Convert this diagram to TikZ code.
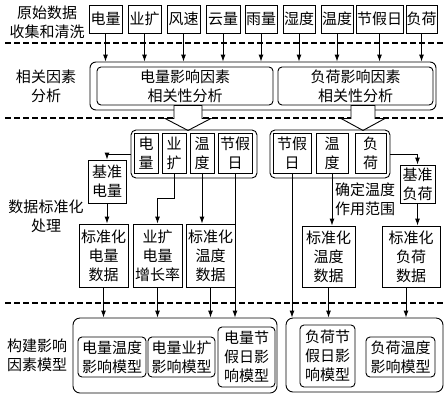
\documentclass[tikz,border=0pt]{standalone}
\usepackage{fontspec}
\setmainfont{Noto Sans CJK SC}
\usetikzlibrary{arrows.meta}

\tikzset{
  box/.style={draw, line width=0.9pt, inner sep=0pt, align=center,
    font=\fontsize{15}{19}\selectfont},
  rbox/.style={box, rounded corners=4pt},
  lbl/.style={align=center, font=\fontsize{15}{19}\selectfont},
  link/.style={line width=0.9pt, -{Latex[length=7pt,width=5pt]}},
  divider/.style={line width=1.4pt, dash pattern=on 6pt off 3pt},
  hollow/.style={line width=0.9pt, fill=white, line join=miter},
}

\begin{document}
\begin{tikzpicture}[x=1pt, y=-1pt]
  \useasboundingbox (0,0) rectangle (446,405);
  % stage names
  \node[lbl] (t1) at(47,22){原始数据\\收集和清洗};
  \node[lbl] (t2) at(46,86){相关因素\\分析};
  \node[lbl] (t3) at(46,216){数据标准化\\处理};
  \node[lbl] (t4) at(37,355){构建影响\\因素模型};
  \draw[divider] (5,43) -- (446,43);
  \draw[divider] (5,118) -- (446,118);
  \draw[divider] (5,303) -- (446,303);

  % raw data
  \node[box, minimum width=33pt, minimum height=28pt] (r1) at(105.5,19){电量};
  \node[box, minimum width=33pt, minimum height=28pt] (r2) at(144.5,19){业扩};
  \node[box, minimum width=33pt, minimum height=28pt] (r3) at(183.5,19){风速};
  \node[box, minimum width=34pt, minimum height=28pt] (r4) at(223,19){云量};
  \node[box, minimum width=32pt, minimum height=28pt] (r5) at(261,19){雨量};
  \node[box, minimum width=32pt, minimum height=28pt] (r6) at(299,19){湿度};
  \node[box, minimum width=32pt, minimum height=28pt] (r7) at(337,19){温度};
  \node[box, minimum width=47pt, minimum height=28pt] (r8) at(379.5,19){节假日};
  \node[box, minimum width=31pt, minimum height=28pt] (r9) at(421.5,19){负荷};

  % correlation analysis
  \node[rbox, rounded corners=6pt, minimum width=346pt, minimum height=48pt] (ana) at(263,86){};
  \node[rbox, minimum width=176pt, minimum height=38pt] (anaE) at(185,86){电量影响因素\\相关性分析};
  \node[rbox, minimum width=155pt, minimum height=38pt] (anaL) at(355.5,86){负荷影响因素\\相关性分析};
  \foreach \i in {1,...,9}
    \draw[link] (r\i.south) -- (r\i.south |- ana.north);
  \draw[hollow] ([xshift=-11pt]anaE.south) -- ++(0,13) -- ++(-9,0) -- ++(23,12)
    -- ++(23,-12) -- ++(-9,0) -- ++(0,-13) -- cycle;
  \draw[hollow] ([xshift=-4.5pt]anaL.south) -- ++(0,13) -- ++(-10,0) -- ++(22,12)
    -- ++(22,-12) -- ++(-10,0) -- ++(0,-13) -- cycle;

  % selected factors
  \node[rbox, rounded corners=5pt, minimum width=126pt, minimum height=48pt] (grpE) at(194,154){};
  \node[box, minimum width=24pt, minimum height=40pt] (gE) at(146,153){电\\量};
  \node[box, minimum width=24pt, minimum height=40pt] (gY) at(174,153){业\\扩};
  \node[box, minimum width=24pt, minimum height=40pt] (gT) at(202,153){温\\度};
  \node[box, minimum width=34pt, minimum height=40pt] (gH) at(235,153){节假\\日};
  \node[rbox, rounded corners=5pt, minimum width=120pt, minimum height=48pt] (grpL) at(330,154){};
  \node[box, minimum width=38pt, minimum height=40pt] (hH) at(292,153){节假\\日};
  \node[box, minimum width=32pt, minimum height=40pt] (hT) at(332,153){温\\度};
  \node[box, minimum width=31pt, minimum height=40pt] (hL) at(370.5,153){负\\荷};

  % standardization
  \node[box, minimum width=38pt, minimum height=43pt] (bE) at(107,181.5){基准\\电量};
  \node[box, minimum width=35pt, minimum height=38pt] (bL) at(417.5,184){基准\\负荷};
  \node[box, minimum width=49pt, minimum height=63pt] (sE) at(103.5,255.5){标准化\\电量\\数据};
  \node[box, minimum width=49pt, minimum height=63pt] (sY) at(157.5,255.5){业扩\\电量\\增长率};
  \node[box, minimum width=49pt, minimum height=63pt] (sT) at(210.5,255.5){标准化\\温度\\数据};
  \node[box, minimum width=53pt, minimum height=61pt] (rT) at(328.5,256.5){标准化\\温度\\数据};
  \node[box, minimum width=58pt, minimum height=61pt] (sL) at(411,256.5){标准化\\负荷\\数据};
  \node[lbl] (lblT) at(365,199){确定温度\\作用范围};
  \draw[link] (grpE.west) -| (bE.north);
  \draw[link] (bE.south) -- (bE.south |- sE.north);
  \draw[link] (gY.south) -- ++(0,25) -| (sY.north);
  \draw[link] (gT.south) -- (gT.south |- sT.north);
  \draw[link] (hT.south) -- (hT.south |- rT.north);
  \draw[link] (grpL.east) -| (bL.north);
  \draw[link] (bL.south) -- (bL.south |- sL.north);

  % influence models
  \node[rbox, rounded corners=7pt, minimum width=204pt, minimum height=75pt] (modE) at(175,355.5){};
  \node[rbox, minimum width=68pt, minimum height=40pt] (mET) at(112,357){电量温度\\影响模型};
  \node[rbox, minimum width=67pt, minimum height=40pt] (mEY) at(181.5,357){电量业扩\\影响模型};
  \node[rbox, minimum width=57pt, minimum height=60pt] (mEH) at(246.5,357){电量节\\假日影\\响模型};
  \node[rbox, rounded corners=7pt, minimum width=157pt, minimum height=74pt] (modL) at(364.5,355){};
  \node[rbox, minimum width=55pt, minimum height=62pt] (mLH) at(327.5,356){负荷节\\假日影\\响模型};
  \node[rbox, minimum width=69pt, minimum height=40pt] (mLT) at(400.5,357){负荷温度\\影响模型};
  \draw[link] (sE.south) -- (sE.south |- modE.north);
  \draw[link] (sY.south) -- (sY.south |- modE.north);
  \draw[link] (sT.south) -- (sT.south |- modE.north);
  \draw[link] (gH.south) -- (gH.south |- modE.north);
  \draw[link] (hH.south) -- (hH.south |- modL.north);
  \draw[link] (rT.south) -- (rT.south |- modL.north);
  \draw[link] ([xshift=-5pt]sL.south) -- ([xshift=-5pt]sL.south |- modL.north);
\end{tikzpicture}
\end{document}
